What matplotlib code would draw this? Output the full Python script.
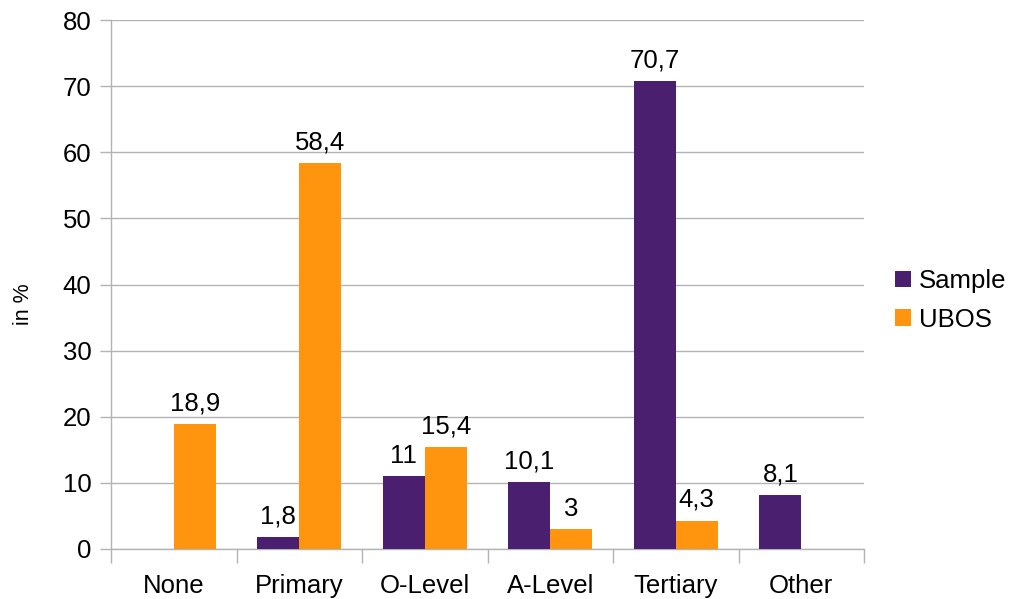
import matplotlib.pyplot as plt
import numpy as np

categories = ["None", "Primary", "O-Level", "A-Level", "Tertiary", "Other"]
sample = [0, 1.8, 11, 10.1, 70.7, 8.1]
ubos = [18.9, 58.4, 15.4, 3, 4.3, 0]
sample_labels = ["", "1,8", "11", "10,1", "70,7", "8,1"]
ubos_labels = ["18,9", "58,4", "15,4", "3", "4,3", ""]

plt.rcParams['font.family'] = ['Liberation Sans', 'DejaVu Sans']
grid_col = "#b3b3b3"
fs = 18.5

fig = plt.figure(figsize=(10.16, 5.99), dpi=100)
ax = fig.add_axes([111 / 1016, 1 - 549 / 599, (864 - 111) / 1016, (549 - 20) / 599])

x = np.arange(len(categories))
w = 1 / 3
b1 = ax.bar(x - w / 2, sample, w, color="#4b1f6f", label="Sample", zorder=3)
b2 = ax.bar(x + w / 2, ubos, w, color="#ff950e", label="UBOS", zorder=3)

for rect, lab in zip(b1, sample_labels):
    if lab:
        ax.text(rect.get_x() + rect.get_width() / 2, rect.get_height() + 1.3, lab,
                ha="center", va="bottom", fontsize=fs)
for rect, lab in zip(b2, ubos_labels):
    if lab:
        ax.text(rect.get_x() + rect.get_width() / 2, rect.get_height() + 1.3, lab,
                ha="center", va="bottom", fontsize=fs)

ax.set_xlim(-0.5, len(categories) - 0.5)
ax.set_ylim(0, 80)
ax.set_yticks(range(0, 81, 10))
ax.yaxis.grid(True, color=grid_col, linewidth=1)
ax.set_axisbelow(True)

# category labels centred, tick marks between categories
ax.set_xticks(np.arange(-0.5, len(categories), 1))
ax.set_xticklabels([])
ax.set_xticks(x, minor=True)
ax.set_xticklabels(categories, minor=True, fontsize=fs)
ax.tick_params(axis="x", which="major", length=10, color=grid_col, width=1)
ax.tick_params(axis="x", which="minor", length=0, pad=18)
ax.tick_params(axis="y", length=8, color=grid_col, width=1, labelsize=fs, pad=6)

for s in ["top", "right"]:
    ax.spines[s].set_visible(False)
for s in ["left", "bottom"]:
    ax.spines[s].set_color(grid_col)
    ax.spines[s].set_linewidth(1)

ax.set_ylabel("in %", fontsize=15.5)
ax.yaxis.set_label_coords(-0.102, 0.462)

ax.legend(loc="center left", bbox_to_anchor=(1.0275, 0.470), frameon=False, fontsize=fs,
          handlelength=0.62, handleheight=0.62, handletextpad=0.31, labelspacing=0.58,
          borderaxespad=0)

plt.savefig("out.png", dpi=100)
